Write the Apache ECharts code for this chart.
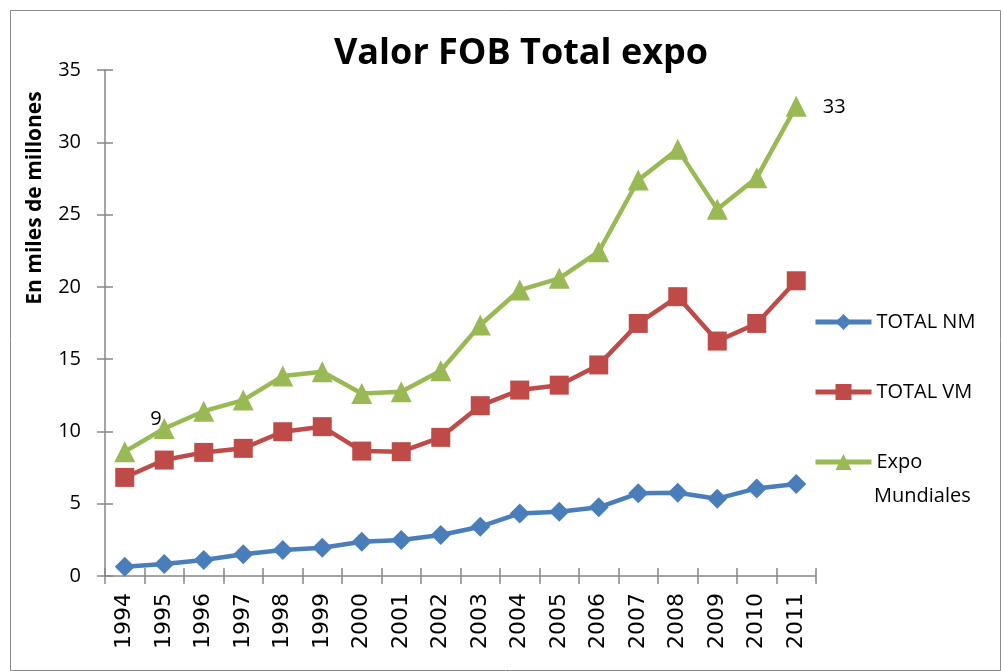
<!DOCTYPE html>
<html>
<head>
<meta charset="utf-8">
<style>
  html, body { margin: 0; padding: 0; background: #fff; }
  #chart { width: 1004px; height: 671px; }
</style>
<script src="https://cdn.jsdelivr.net/npm/echarts@6/dist/echarts.min.js"></script>
</head>
<body>
<div id="chart"></div>
<script>
const years = ['1994','1995','1996','1997','1998','1999','2000','2001','2002',
  '2003','2004','2005','2006','2007','2008','2009','2010','2011'];
const totalNM = [0.64, 0.83, 1.1, 1.5, 1.8, 1.96, 2.37, 2.49, 2.84,
  3.41, 4.33, 4.45, 4.75, 5.72, 5.76, 5.35, 6.06, 6.36];
const totalVM = [6.82, 8.02, 8.55, 8.83, 9.98, 10.33, 8.64, 8.6, 9.59,
  11.78, 12.86, 13.2, 14.6, 17.47, 19.32, 16.25, 17.47, 20.42];
const expoMundiales = [8.6, 10.2, 11.4, 12.17, 13.83, 14.13, 12.63, 12.75, 14.2,
  17.36, 19.78, 20.59, 22.43, 27.39, 29.51, 25.36, 27.55, 32.5];

const font = '"Open Sans", "Noto Sans", sans-serif';
const axisGray = '#868686';
const colNM = '#4A7EBB', colVM = '#BE4B48', colExpo = '#98B954';

const chart = echarts.init(document.getElementById('chart'));

// etiquetas solo en el primer y ultimo punto
const expoData = expoMundiales.map((v, i) => {
  if (i === 0) return { value: v, label: { show: true, position: [36, -32] } };
  if (i === expoMundiales.length - 1) return { value: v, label: { show: true, position: [37, 2] } };
  return v;
});

const yAxisBase = {
  type: 'value', min: 0, max: 35, interval: 5,
  splitLine: { show: false }
};

// una leyenda por serie para fijar su posicion
const legendBase = {
  orient: 'vertical', left: 813, padding: 0,
  itemWidth: 56, itemHeight: 20,
  lineStyle: { width: 5 },
  textStyle: { fontSize: 20, color: '#000', fontFamily: font },
  formatter: name => name === 'Expo Mundiales' ? 'Expo' : name
};

chart.setOption({
  animation: false,
  textStyle: { fontFamily: font },
  title: {
    text: 'Valor FOB Total expo',
    left: 516, top: 31, textAlign: 'center',
    textStyle: { fontSize: 36, fontWeight: 'bold', color: '#000', fontFamily: font }
  },
  graphic: [
    {
      type: 'rect', left: 8, top: 8,
      shape: { width: 990, height: 660 },
      style: { fill: 'none', stroke: '#8a8a8a', lineWidth: 1 }
    },
    {
      type: 'text', x: 35, y: 198, rotation: Math.PI / 2,
      style: {
        text: 'En miles de millones', fill: '#000',
        font: 'bold 21px ' + font, align: 'center', verticalAlign: 'middle'
      }
    },
    {
      type: 'text', x: 874, y: 496,
      style: {
        text: 'Mundiales', fill: '#000',
        font: '20px ' + font, align: 'left', verticalAlign: 'middle'
      }
    }
  ],
  legend: [
    Object.assign({}, legendBase, { top: 312, data: ['TOTAL NM'] }),
    Object.assign({}, legendBase, { top: 382, data: ['TOTAL VM'] }),
    Object.assign({}, legendBase, { top: 452, data: ['Expo Mundiales'] })
  ],
  grid: { left: 105, right: 188, top: 70, bottom: 95 },
  xAxis: [
    {
      type: 'category', data: years, boundaryGap: true,
      axisLine: { lineStyle: { color: axisGray, width: 1.5 } },
      axisTick: { show: true, length: 8, lineStyle: { color: axisGray, width: 1.5 } },
      axisLabel: {
        rotate: 90, margin: 17, fontSize: 22, color: '#000',
        fontFamily: '"DejaVu Sans", sans-serif'
      }
    },
    {
      type: 'category', data: years, position: 'bottom', boundaryGap: true,
      axisLine: { show: false },
      axisTick: { show: true, inside: true, length: 8, lineStyle: { color: axisGray, width: 1.5 } },
      axisLabel: { show: false }
    }
  ],
  yAxis: [
    Object.assign({}, yAxisBase, {
      axisLine: { show: true, lineStyle: { color: axisGray, width: 1.5 } },
      axisTick: { show: true, length: 8, lineStyle: { color: axisGray, width: 1.5 } },
      axisLabel: { margin: 24, fontSize: 20, color: '#000', fontFamily: font }
    }),
    Object.assign({}, yAxisBase, {
      position: 'left',
      axisLine: { show: false },
      axisTick: { show: true, inside: true, length: 8, lineStyle: { color: axisGray, width: 1.5 } },
      axisLabel: { show: false }
    })
  ],
  series: [
    {
      name: 'TOTAL NM', type: 'line', data: totalNM,
      symbol: 'diamond', symbolSize: 20,
      lineStyle: { color: colNM, width: 4.5 },
      itemStyle: { color: colNM }
    },
    {
      name: 'TOTAL VM', type: 'line', data: totalVM,
      symbol: 'rect', symbolSize: 19,
      lineStyle: { color: colVM, width: 4.5 },
      itemStyle: { color: colVM }
    },
    {
      name: 'Expo Mundiales', type: 'line', data: expoData,
      symbol: 'triangle', symbolSize: 21,
      lineStyle: { color: colExpo, width: 4.5 },
      itemStyle: { color: colExpo },
      label: {
        show: false, fontSize: 20, color: '#000', fontFamily: font,
        formatter: p => Math.round(p.value)
      }
    }
  ]
});
</script>
</body>
</html>
